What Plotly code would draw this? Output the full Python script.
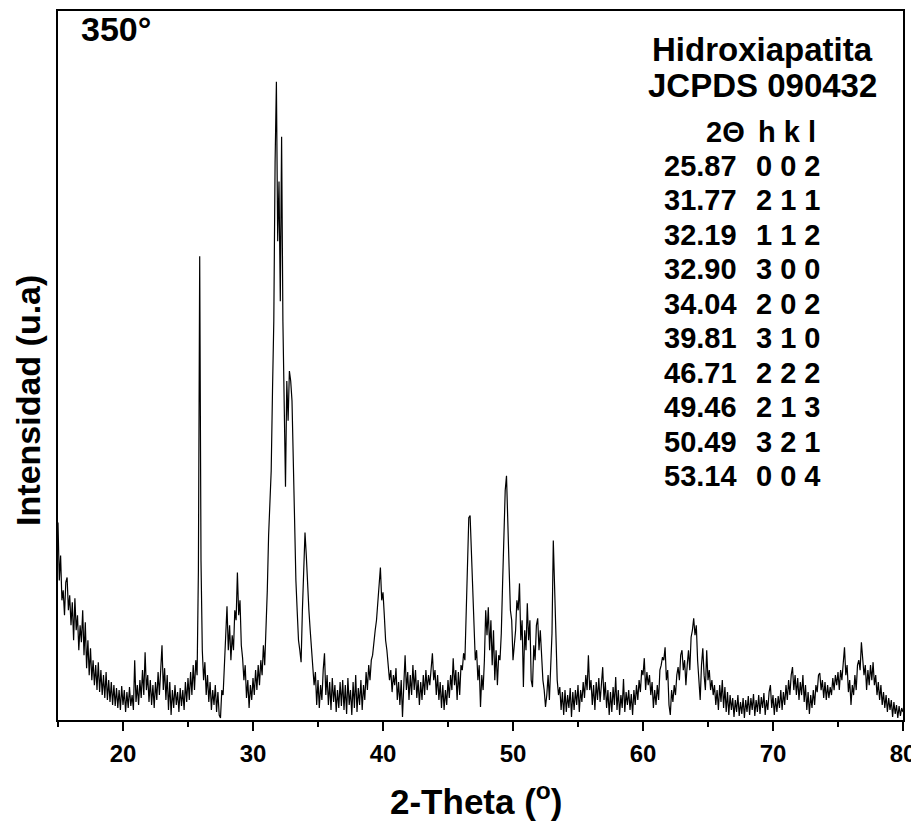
import plotly.graph_objects as go

# XRD intensity (arbitrary units), sampled every 0.1 deg from 15.0 to 80.0
intensity = [
    198, 140, 165, 120, 130, 105, 138, 143, 110, 125,   # 15
    95, 118, 80, 122, 90, 105, 70, 95, 78, 110,         # 16
    65, 98, 52, 80, 45, 72, 40, 60, 35, 55,             # 17
    30, 58, 28, 50, 25, 45, 22, 48, 20, 40,             # 18
    18, 38, 15, 35, 14, 32, 12, 30, 10, 34,             # 19
    15, 30, 8, 28, 12, 33, 14, 25, 10, 60,              # 20
    18, 35, 15, 40, 22, 50, 25, 68, 30, 45,             # 21
    18, 40, 15, 35, 12, 38, 20, 48, 25, 55,             # 22
    75, 30, 52, 20, 45, 10, 38, 5, 30, 12,              # 23
    35, 15, 28, 8, 32, 14, 30, 10, 38, 18,              # 24
    42, 20, 48, 25, 55, 30, 60, 45, 150, 465,           # 25
    160, 70, 40, 58, 25, 45, 18, 38, 10, 30,            # 26
    15, 35, 8, 28, 5, 2, 30, 25, 55, 85,                # 27
    114, 70, 95, 60, 85, 70, 110, 100, 148, 105,        # 28
    120, 75, 62, 40, 55, 22, 40, 12, 35, 20,            # 29
    42, 25, 50, 30, 55, 35, 60, 45, 75, 55,             # 30
    90, 130, 185, 215, 250, 330, 400, 560, 640, 480,    # 31
    540, 420, 585, 400, 300, 234, 340, 300, 350, 340,   # 32
    320, 257, 180, 140, 109, 80, 70, 58, 110, 160,      # 33
    188, 165, 130, 110, 90, 70, 53, 35, 48, 15,         # 34
    40, 12, 35, 20, 50, 67, 25, 45, 15, 38,             # 35
    10, 42, 18, 35, 8, 30, 12, 38, 14, 40,              # 36
    10, 35, 6, 42, 15, 30, 5, 38, 12, 45,               # 37
    8, 32, 15, 40, 10, 35, 20, 48, 30, 55,              # 38
    40, 60, 65, 80, 90, 100, 120, 140, 153, 120,        # 39
    128, 105, 80, 70, 55, 40, 50, 28, 45, 35,           # 40
    52, 20, 38, 15, 40, 3, 35, 65, 30, 48,              # 41
    20, 45, 25, 55, 30, 50, 22, 40, 15, 38,             # 42
    20, 45, 25, 50, 30, 45, 35, 55, 67, 40,             # 43
    50, 25, 45, 20, 38, 12, 35, 10, 30, 15,             # 44
    40, 22, 45, 30, 62, 35, 50, 20, 48, 25,             # 45
    55, 50, 67, 60, 110, 150, 203, 205, 165, 120,       # 46
    80, 60, 70, 40, 55, 13, 45, 30, 60, 110,            # 47
    85, 113, 70, 100, 55, 90, 40, 70, 35, 65,           # 48
    60, 87, 137, 200, 230, 245, 187, 153, 110, 100,     # 49
    60, 77, 90, 120, 110, 137, 80, 100, 33, 90,         # 50
    70, 117, 80, 100, 40, 33, 75, 60, 95, 102,          # 51
    70, 90, 55, 40, 30, 13, 25, 45, 20, 55,             # 52
    87, 180, 127, 70, 40, 25, 33, 10, 28, 5,            # 53
    30, 8, 25, 12, 32, 3, 28, 10, 30, 15,               # 54
    35, 8, 30, 18, 38, 22, 45, 30, 65, 30,              # 55
    40, 15, 35, 10, 38, 20, 42, 18, 35, 53,             # 56
    20, 38, 12, 30, 5, 28, 8, 33, 15, 43,               # 57
    10, 30, 5, 25, 12, 41, 8, 28, 15, 30,               # 58
    10, 26, 5, 30, 15, 35, 20, 40, 28, 50,              # 59
    45, 62, 30, 48, 35, 45, 25, 38, 12, 30,             # 60
    15, 35, 20, 50, 55, 63, 60, 73, 40, 50,             # 61
    15, 5, 30, 18, 35, 25, 45, 53, 40, 65,              # 62
    70, 50, 60, 35, 55, 70, 50, 83, 90, 102,            # 63
    85, 95, 60, 40, 20, 55, 72, 45, 30, 70,             # 64
    40, 50, 30, 40, 25, 35, 15, 30, 10, 35,             # 65
    18, 40, 12, 33, 8, 28, 5, 25, 10, 22,               # 66
    3, 20, 8, 25, 4, 18, 6, 22, 2, 20,                  # 67
    8, 24, 5, 22, 10, 26, 4, 20, 8, 25,                 # 68
    6, 23, 12, 27, 5, 20, 10, 28, 35, 12,               # 69
    25, 5, 22, 8, 24, 12, 30, 10, 28, 15,               # 70
    35, 20, 40, 25, 45, 53, 30, 45, 25, 42,             # 71
    20, 38, 25, 45, 18, 35, 10, 28, 6, 25,              # 72
    12, 30, 15, 35, 28, 45, 47, 30, 40, 22,             # 73
    38, 20, 35, 22, 33, 25, 42, 30, 45, 35,             # 74
    48, 30, 50, 40, 60, 73, 45, 55, 28, 40,             # 75
    15, 35, 25, 45, 30, 55, 60, 50, 78, 55,             # 76
    45, 55, 30, 50, 35, 55, 40, 58, 35, 45,             # 77
    25, 38, 20, 35, 15, 28, 12, 25, 8, 22,              # 78
    10, 20, 3, 18, 6, 15, 2, 14, 4, 12,                 # 79
    8,                                                  # 80
]
two_theta = [round(15 + 0.1 * i, 1) for i in range(len(intensity))]

x_tick_vals = [20, 30, 40, 50, 60, 70, 80]
peak_2theta = ["25.87", "31.77", "32.19", "32.90", "34.04",
               "39.81", "46.71", "49.46", "50.49", "53.14"]
peak_hkl = ["0 0 2", "2 1 1", "1 1 2", "3 0 0", "2 0 2",
            "3 1 0", "2 2 2", "2 1 3", "3 2 1", "0 0 4"]

# page has an 8px body margin; work in page pixels and subtract it
OFF = 8
W, H = 919 - OFF, 840 - OFF
L, R, T, B = 58 - OFF, 903 - OFF, 1, 720 - OFF
FONT = "Liberation Sans, Arial, sans-serif"


def pxx(p):
    return (p - OFF - L) / (R - L)


def pxy(p):
    return (B - (p - OFF)) / (B - T)


fig = go.Figure(go.Scatter(x=two_theta, y=intensity, mode="lines",
                           line=dict(color="black", width=1.2),
                           hoverinfo="skip"))

fig.update_layout(
    width=W, height=H,
    margin=dict(l=L, r=W - R, t=T, b=H - B, pad=0),
    plot_bgcolor="white", paper_bgcolor="white",
    showlegend=False,
    font=dict(family=FONT, color="black"),
)

fig.update_xaxes(
    range=[15, 80], showline=True, linewidth=2, linecolor="black",
    mirror=True, showgrid=False, zeroline=False,
    ticks="outside", ticklen=9, tickwidth=2, tickcolor="black",
    tickvals=x_tick_vals, ticklabelstandoff=2,
    tickfont=dict(size=24, family=FONT, color="black", weight="bold"),
    minor=dict(ticks="outside", ticklen=5, tickwidth=2, tickcolor="black",
               dtick=5, tick0=0, showgrid=False),
)
fig.update_yaxes(
    range=[0, 711], showline=True, linewidth=2, linecolor="black",
    mirror=True, showgrid=False, zeroline=False,
    showticklabels=False, ticks="",
)

ann = []


def add(text, px, py, size, xanchor="center", angle=0):
    ann.append(dict(text=text, x=pxx(px), y=pxy(py), xref="paper", yref="paper",
                    xanchor=xanchor, yanchor="middle", showarrow=False,
                    textangle=angle,
                    font=dict(size=size, family=FONT, color="black", weight="bold")))


add("350°", 79, 27, 34, xanchor="left")
add("Hidroxiapatita", 762, 48, 33)
add("JCPDS 090432", 762, 84, 33)
add("2Θ", 725, 130, 29)
add("h k l", 756, 130, 29, xanchor="left")
for i, (t, h) in enumerate(zip(peak_2theta, peak_hkl)):
    yy = 164 + 34.6 * i
    add(t, 662, yy, 29, xanchor="left")
    add(h, 754, yy, 29, xanchor="left")

add("Intensidad (u.a)", 28, 400, 34, angle=-90)
add("2-Theta (<sup>o</sup>)", 476, 799, 35)

fig.update_layout(annotations=ann)

fig.write_html("out.html")
